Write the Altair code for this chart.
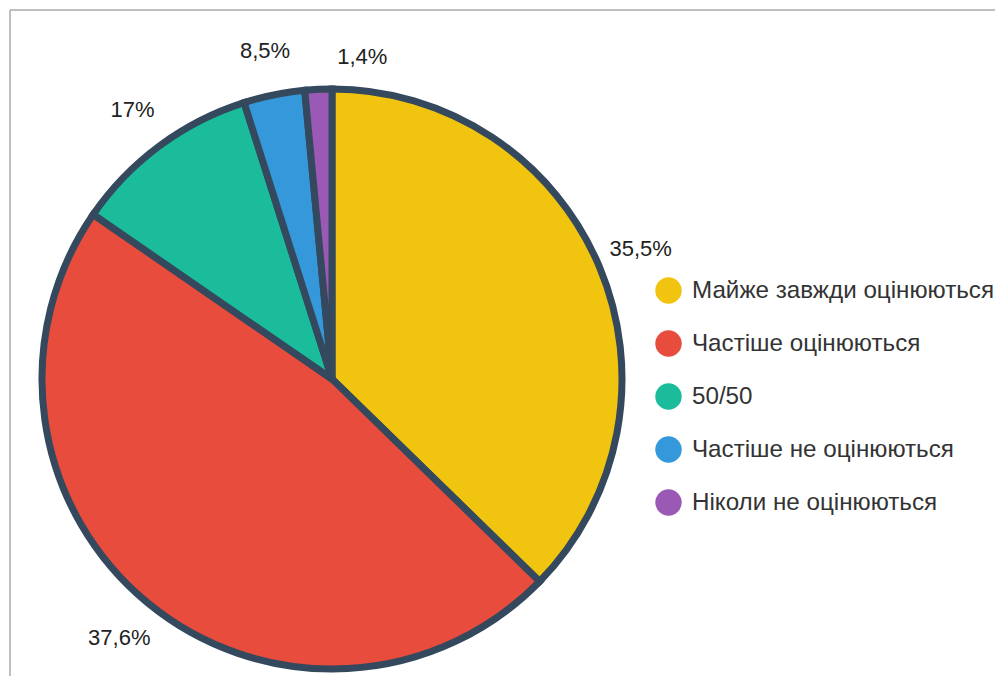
import altair as alt
import pandas as pd

categories = ["Майже завжди оцінюються", "Частіше оцінюються", "50/50",
              "Частіше не оцінюються", "Ніколи не оцінюються"]
slice_values = [37.3, 47.3, 10.5, 3.4, 1.5]
label_texts = ["35,5%", "37,6%", "17%", "8,5%", "1,4%"]
colors = ["#f1c40f", "#e74c3c", "#1abc9c", "#3498db", "#9b59b6"]

df = pd.DataFrame({
    "category": categories,
    "value": slice_values,
    "label": label_texts,
    "order": list(range(len(categories))),
})

CX, CY = 324, 371
R = 290

base = alt.Chart(df).encode(
    theta=alt.Theta("value:Q", stack=True),
    order=alt.Order("order:Q", sort="ascending"),
)

pie = base.mark_arc(radius=R, stroke="#34495e", strokeWidth=7, strokeJoin="miter").encode(
    x=alt.value(CX),
    y=alt.value(CY),
    color=alt.Color(
        "category:N",
        scale=alt.Scale(domain=categories, range=colors),
        sort=categories,
        legend=alt.Legend(
            title=None,
            orient="none",
            legendX=647,
            legendY=269,
            padding=0,
            symbolType="circle",
            symbolSize=700,
            symbolStrokeWidth=0,
            symbolOpacity=1,
            labelFontSize=24.2,
            labelFont="Liberation Sans",
            labelColor="#333333",
            labelOffset=10,
            rowPadding=26,
            labelLimit=400,
        ),
    ),
)

text_style = dict(fontSize=22, font="Liberation Sans", color="#222222")

labels_main = base.mark_text(radius=335, **text_style).encode(
    x=alt.value(CX),
    y=alt.value(CY),
    text="label:N",
).transform_filter("datum.order < 4")

labels_top = base.mark_text(radius=322, align="left", dx=-10, **text_style).encode(
    x=alt.value(CX),
    y=alt.value(CY),
    text="label:N",
).transform_filter("datum.order == 4")

border_top = alt.Chart(alt.Data(values=[{}])).mark_rule(color="#aaaaaa", strokeWidth=1.5).encode(
    x=alt.value(2), x2=alt.value(995), y=alt.value(2)
)
border_left = alt.Chart(alt.Data(values=[{}])).mark_rule(color="#aaaaaa", strokeWidth=1.5).encode(
    x=alt.value(2), y=alt.value(2), y2=alt.value(676)
)

chart = alt.layer(border_top, border_left, pie, labels_main, labels_top).properties(
    width=987, height=668, autosize=alt.AutoSizeParams(type="none"), padding=0
).configure_view(strokeWidth=0)

chart.save("out.html", embed_options={"renderer": "svg", "actions": False})
